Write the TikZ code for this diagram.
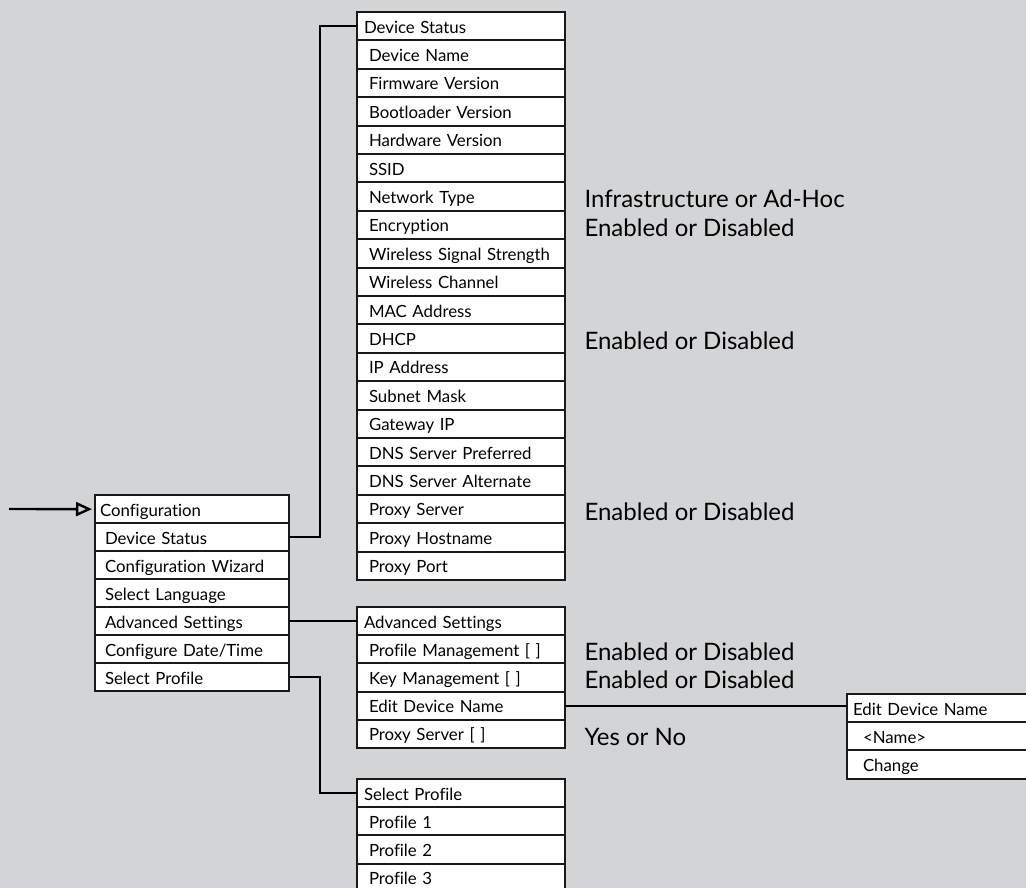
\documentclass[tikz,border=0pt]{standalone}
\usepackage{fontspec}
\setmainfont{Lato}[Ligatures=NoCommon]
\usetikzlibrary{arrows.meta,positioning}
\definecolor{bggray}{RGB}{211,212,214}

\begin{document}
\begin{tikzpicture}[x=1pt, y=-1pt, font=\fontsize{16.8}{19}\selectfont,
                    >={Triangle[open, length=16pt, width=14pt]}]
  \tikzset{cell/.style={draw=black!90, line width=1.9pt, fill=white,
                        anchor=north west, outer sep=0pt, inner ysep=0pt,
                        minimum height=28.3pt, text height=16pt,
                        text depth=2pt, align=left},
           hd/.style={cell, inner xsep=7pt, text width=#1},
           it/.style={cell, inner xsep=12pt, text width=#1},
           link/.style={line width=2.4pt},
           note/.style={anchor=base west, font=\fontsize{24}{27}\selectfont}}
  \useasboundingbox (0,0) rectangle (1026,888);
  \clip (0,0) rectangle (1026,888);
  \fill[bggray] (0,0) rectangle (1026,888);

  % main menu
  \node[hd=184pt, inner xsep=5pt] (cf0) at (95,495) {Configuration};
  \foreach \t [count=\i] in {Device Status, Configuration Wizard,
      Select Language, Advanced Settings, Configure Date/Time, Select Profile}
    \node[it=174pt, inner xsep=10pt] (cf\i) at (95,{495+28*\i}) {\t};

  % device status
  \node[hd=194pt] (ds0) at (357,12) {Device Status};
  \foreach \t [count=\i] in {Device Name, Firmware Version, Bootloader Version,
      Hardware Version, SSID, Network Type, Encryption,
      Wireless Signal Strength, Wireless Channel, MAC Address, DHCP,
      IP Address, Subnet Mask, Gateway IP, DNS Server Preferred,
      DNS Server Alternate, Proxy Server, Proxy Hostname, Proxy Port}
    \node[it=184pt] (ds\i) at (357,{12+28.4*\i}) {\t};

  % advanced settings
  \node[hd=194pt] (as0) at (357,607) {Advanced Settings};
  \foreach \t [count=\i] in {Profile Management [ ], Key Management [ ],
      Edit Device Name, Proxy Server [ ]}
    \node[it=184pt] (as\i) at (357,{607+28.2*\i}) {\t};

  % select profile
  \node[hd=194pt] (sp0) at (357,779) {Select Profile};
  \foreach \t [count=\i] in {Profile 1, Profile 2, Profile 3}
    \node[it=184pt] (sp\i) at (357,{779+28.2*\i}) {\t};

  % edit device name
  \node[hd=173pt, inner xsep=6pt] (ed0) at (847,694) {Edit Device Name};
  \foreach \t [count=\i] in {<Name>, Change}
    \node[it=153pt, inner xsep=16pt] (ed\i) at (847,{694+28.2*\i}) {\t};

  % values
  \node[note] (ntype)  at ([xshift=16pt, yshift=3pt]ds6.south east)  {Infrastructure or Ad-Hoc};
  \node[note] (nenc)   at ([xshift=16pt, yshift=3pt]ds7.south east)  {Enabled or Disabled};
  \node[note] (ndhcp)  at ([xshift=16pt, yshift=3pt]ds11.south east) {Enabled or Disabled};
  \node[note] (nproxy) at ([xshift=16pt, yshift=3pt]ds17.south east) {Enabled or Disabled};
  \node[note] (nprof)  at ([xshift=16pt, yshift=3pt]as1.south east)  {Enabled or Disabled};
  \node[note] (nkey)   at ([xshift=16pt, yshift=3pt]as2.south east)  {Enabled or Disabled};
  \node[note] (nyes)   at ([xshift=16pt, yshift=3pt]as4.south east)  {Yes or No};

  \coordinate (in) at (9,509);
  \draw[link, ->, shorten >=3pt] (in) -- (cf0.west);
  \draw[link] (cf1.east) -- ++(31,0) |- (ds0.west);
  \draw[link] (cf4.east) -- (cf4.east -| as0.west);
  \draw[link] (cf6.east) -- ++(31,0) |- (sp0.west);
  \draw[link] (as3.east) -- (as3.east -| ed0.west);
\end{tikzpicture}
\end{document}
